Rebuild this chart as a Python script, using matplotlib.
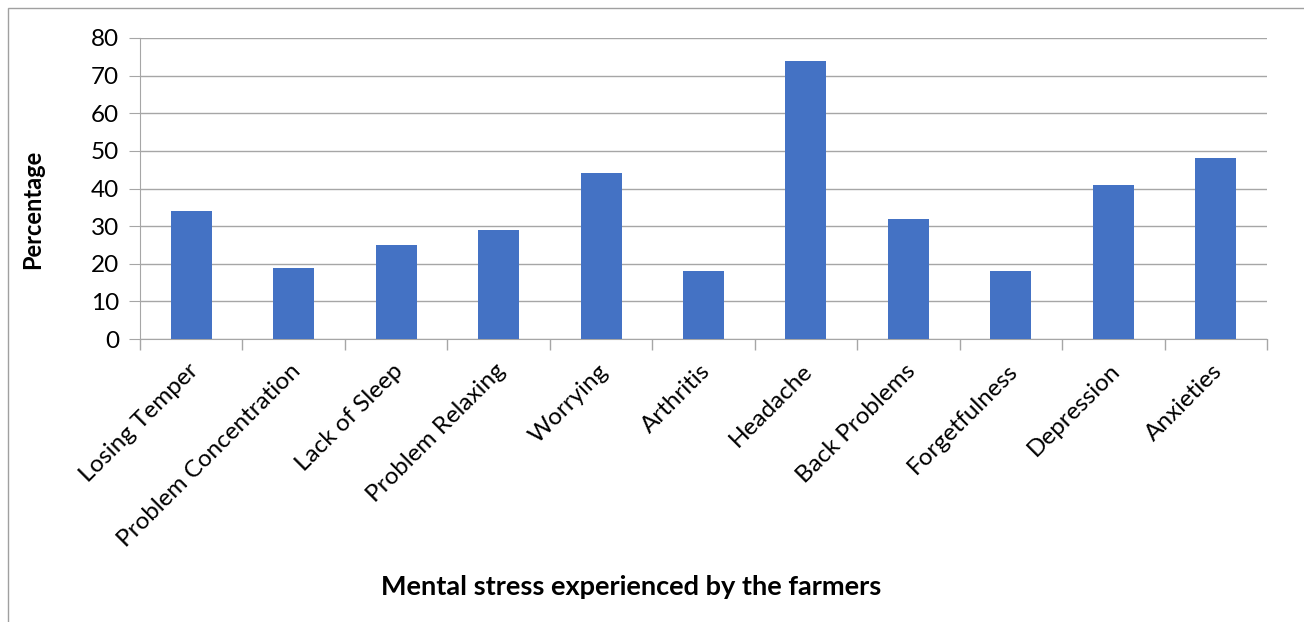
import matplotlib
matplotlib.use("Agg")
import matplotlib.pyplot as plt
from matplotlib.patches import Rectangle

categories = ["Losing Temper", "Problem Concentration", "Lack of Sleep", "Problem Relaxing",
              "Worrying", "Arthritis", "Headache", "Back Problems", "Forgetfulness",
              "Depression", "Anxieties"]
values = [34, 19, 25, 29, 44, 18, 74, 32, 18, 41, 48]
yticks = [0, 10, 20, 30, 40, 50, 60, 70, 80]

plt.rcParams['font.family'] = ['Lato', 'DejaVu Sans']

W, H = 1304, 622
fig = plt.figure(figsize=(W / 100, H / 100), dpi=100)
fig.patch.set_facecolor('white')

# chart border
fig.patches.append(Rectangle((7.5 / W, -0.05), 1.2, (H - 7.5) / H + 0.05,
                             transform=fig.transFigure, fill=False,
                             edgecolor='#a0a0a0', lw=1))

left, right, top, bottom = 140, 1267, 38, 339
ax = fig.add_axes([left / W, 1 - bottom / H, (right - left) / W, (bottom - top) / H])

x = list(range(len(categories)))
ax.bar(x, values, width=0.4, color='#4472C4', zorder=3)
ax.set_xlim(-0.5, len(categories) - 0.5)
ax.set_ylim(0, 80)
ax.set_yticks(yticks)
ax.set_yticklabels([str(v) for v in yticks], fontsize=17.5)
ax.yaxis.grid(True, color='#a6a6a6', lw=1, zorder=0)
ax.tick_params(axis='y', length=8, color='#a6a6a6', pad=7)

# category boundary ticks
ax.set_xticks([i - 0.5 for i in range(len(categories) + 1)])
ax.set_xticklabels([])
ax.tick_params(axis='x', length=8, color='#a6a6a6', width=1)
for i, c in enumerate(categories):
    ax.text(i - 0.04, -0.07, c, transform=ax.get_xaxis_transform(),
            rotation=45, ha='right', va='top', rotation_mode='anchor', fontsize=17.5)

for s in ['top', 'right']:
    ax.spines[s].set_visible(False)
ax.spines['left'].set_color('#a6a6a6')
ax.spines['bottom'].set_color('#a6a6a6')

fig.text(33 / W, 1 - 209 / H, "Percentage", rotation=90, ha='center', va='center',
         fontsize=17, fontweight='bold')
fig.text(631 / W, 1 - 587 / H, "Mental stress experienced by the farmers",
         ha='center', va='center', fontsize=19.5, fontweight='bold')

fig.savefig("out.png", dpi=100)
